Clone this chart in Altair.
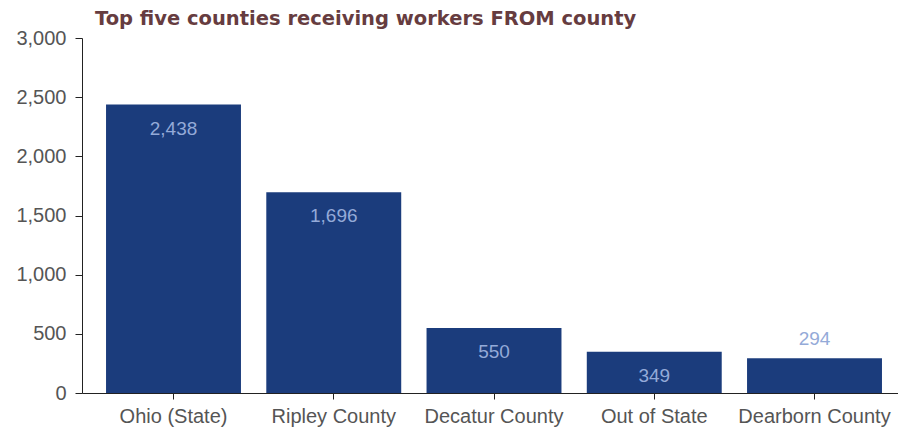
import altair as alt
import pandas as pd

categories = ["Ohio (State)", "Ripley County", "Decatur County", "Out of State", "Dearborn County"]
values = [2438, 1696, 550, 349, 294]
y_ticks = [0, 500, 1000, 1500, 2000, 2500, 3000]

df = pd.DataFrame({"place": categories, "workers": values})

BAR = "#1b3c7c"
LBL = "#94aad8"
FONT = "Liberation Sans"

x = alt.X("place:N", sort=categories, title=None,
          scale=alt.Scale(paddingInner=0.158, paddingOuter=0.125, align=0.6),
          axis=alt.Axis(labelAngle=0, labelFont=FONT, labelFontSize=20, labelColor="#555555",
                        domainColor="#222222", tickColor="#222222", tickSize=6, labelPadding=7))
y = alt.Y("workers:Q", title=None,
          scale=alt.Scale(domain=[0, 3000], nice=False),
          axis=alt.Axis(values=y_ticks, format=",d", grid=False, labelFont=FONT, labelFontSize=20,
                        labelColor="#555555", domainColor="#222222", tickColor="#222222",
                        tickSize=7, labelPadding=9))

base = alt.Chart(df)
bars = base.mark_bar(color=BAR).encode(x=x, y=y)
inside = base.transform_filter("datum.workers >= 300").mark_text(
    color=LBL, font=FONT, fontSize=19, baseline="middle", dy=24
).encode(x=x, y=y, text=alt.Text("workers:Q", format=",d"))
outside = base.transform_filter("datum.workers < 300").mark_text(
    color=LBL, font=FONT, fontSize=19, baseline="middle", dy=-19
).encode(x=x, y=y, text=alt.Text("workers:Q", format=",d"))

chart = alt.layer(bars, inside, outside).properties(
    width=816, height=355,
    title=alt.TitleParams("Top five counties receiving workers FROM county", anchor="start",
                          frame="group", font="DejaVu Sans", fontSize=19.5, fontWeight="bold",
                          color="#663c40", dx=13, offset=-1),
    autosize=alt.AutoSizeParams(type="none"),
    padding={"left": 74, "top": 30, "right": 0, "bottom": 40},
).configure_view(stroke=None)

chart.save("out.html", embed_options={"renderer": "svg", "actions": False})
